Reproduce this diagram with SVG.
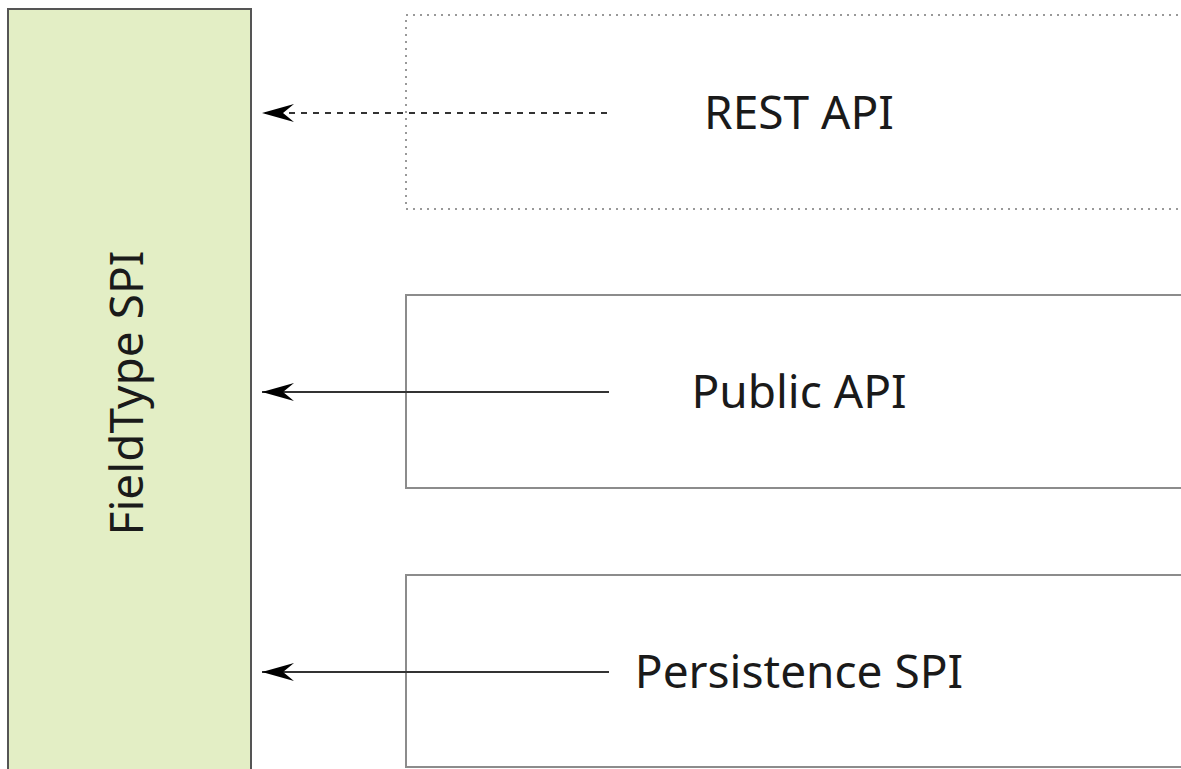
<svg xmlns="http://www.w3.org/2000/svg" width="1181" height="769" viewBox="0 0 1181 769">
<style>
text{font-family:"Noto Sans","Open Sans",sans-serif;font-size:46px;fill:#1a1a1a;text-anchor:middle}
.box{fill:#fff;stroke:#8c8c8c;stroke-width:2}
.dot{fill:#fff;stroke:#999;stroke-width:2;stroke-dasharray:2 5}
.conn{stroke:#333;stroke-width:2;fill:none}
</style>
<defs>
<marker id="ah" markerUnits="userSpaceOnUse" markerWidth="34" markerHeight="20" refX="33" refY="10" orient="auto">
<path d="M33,10 L1,1 L12,10 L1,19 Z" fill="#000"/>
</marker>
</defs>
<rect width="1181" height="769" fill="#fff"/>
<g id="rest">
<rect class="dot" x="406" y="15" width="800" height="194"/>
<text x="799" y="129">REST API</text>
</g>
<g id="public">
<rect class="box" x="406" y="295" width="800" height="193"/>
<text x="799" y="408">Public API</text>
</g>
<g id="persistence">
<rect class="box" x="406" y="575" width="800" height="192"/>
<text x="799" y="688">Persistence SPI</text>
</g>
<g id="fieldtype">
<rect x="8" y="9" width="243" height="800" fill="#e3eec5" stroke="#555" stroke-width="2"/>
<text transform="translate(143,393) rotate(-90)">FieldType SPI</text>
</g>
<g id="connectors">
<line class="conn" x1="607" y1="113" x2="262" y2="113" stroke-dasharray="6 6" marker-end="url(#ah)"/>
<line class="conn" x1="609" y1="392" x2="262" y2="392" marker-end="url(#ah)"/>
<line class="conn" x1="609" y1="672" x2="262" y2="672" marker-end="url(#ah)"/>
</g>
</svg>
